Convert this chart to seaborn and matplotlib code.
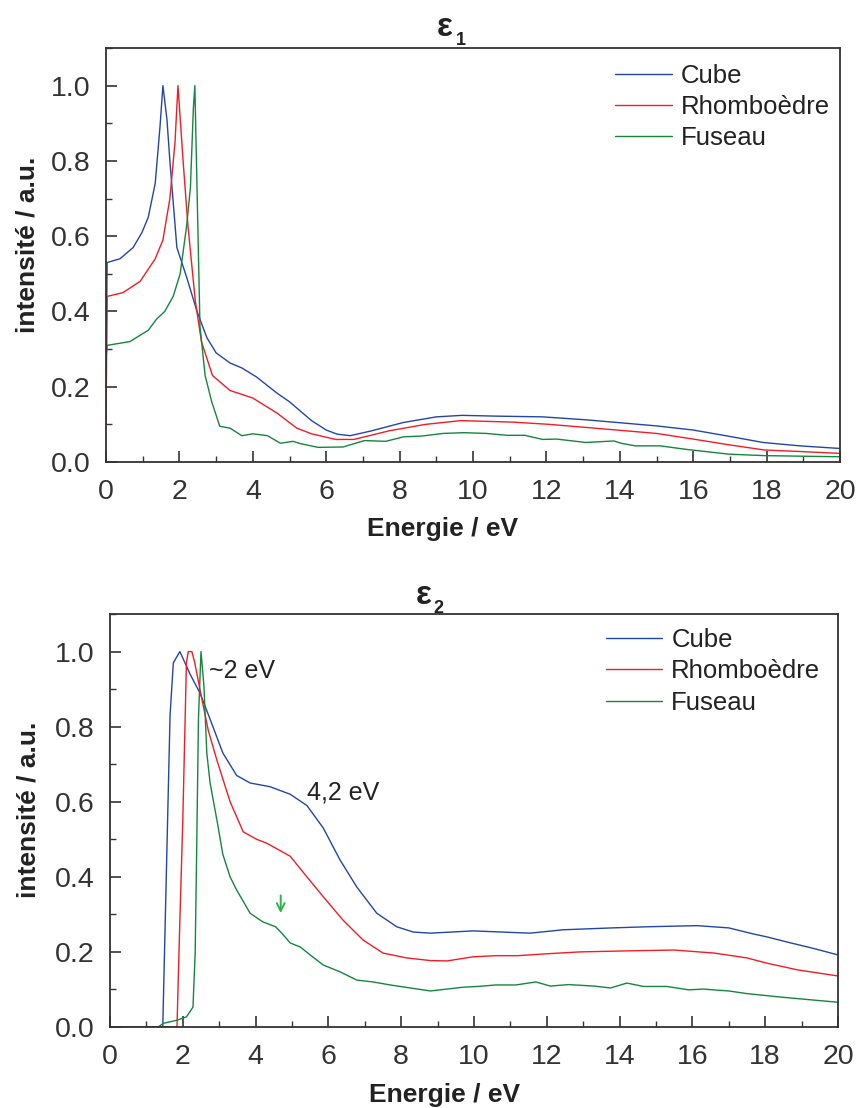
import pandas as pd
import matplotlib
matplotlib.use("Agg")
import matplotlib.pyplot as plt
import seaborn as sns
from matplotlib.ticker import MultipleLocator

# --- données ---
# epsilon 1
e1_cube_x = [0, 0.03, 0.38, 0.74, 0.98, 1.15, 1.34, 1.47, 1.55, 1.66, 1.74, 1.93, 2.2, 2.48, 2.75, 3.0,
             3.38, 3.7, 4.1, 4.66, 5.0, 5.3, 5.6, 6.0, 6.3, 6.65, 7.2, 8.1, 9.0, 9.7, 10.6, 11.9, 13.1,
             15.0, 16.0, 17.0, 17.9, 18.9, 20.0]
e1_cube_y = [0.20, 0.53, 0.54, 0.57, 0.61, 0.65, 0.74, 0.89, 1.0, 0.91, 0.80, 0.57, 0.49, 0.40, 0.33, 0.29,
             0.263, 0.25, 0.226, 0.183, 0.16, 0.135, 0.11, 0.085, 0.074, 0.07, 0.082, 0.105, 0.12, 0.124,
             0.122, 0.12, 0.112, 0.096, 0.085, 0.068, 0.052, 0.043, 0.036]

e1_rhombo_x = [0, 0.03, 0.46, 0.93, 1.34, 1.55, 1.74, 1.88, 1.96, 2.1, 2.23, 2.43, 2.6, 2.9, 3.38, 4.0,
               4.66, 5.2, 5.6, 6.26, 6.75, 7.72, 8.7, 9.66, 11.1, 12.09, 13.07, 15.0, 16.0, 16.96, 17.94,
               18.9, 20.0]
e1_rhombo_y = [0.10, 0.44, 0.45, 0.48, 0.54, 0.59, 0.70, 0.85, 1.0, 0.80, 0.63, 0.43, 0.32, 0.23, 0.19, 0.17,
               0.13, 0.09, 0.075, 0.06, 0.06, 0.083, 0.10, 0.11, 0.106, 0.10, 0.092, 0.076, 0.061, 0.046,
               0.032, 0.028, 0.023]

e1_fuseau_x = [0, 0.03, 0.65, 1.15, 1.38, 1.6, 1.83, 2.02, 2.2, 2.3, 2.38, 2.42, 2.56, 2.7, 2.88, 3.1,
               3.38, 3.7, 4.0, 4.4, 4.75, 5.1, 5.29, 5.78, 6.46, 7.04, 7.62, 8.11, 8.6, 9.18, 9.76, 10.35,
               10.93, 11.41, 11.9, 12.28, 13.07, 13.84, 14.03, 14.42, 15.1, 15.78, 16.96, 17.94, 20.0]
e1_fuseau_y = [0.28, 0.31, 0.32, 0.35, 0.38, 0.40, 0.44, 0.50, 0.63, 0.73, 0.94, 1.0, 0.36, 0.23, 0.16, 0.095,
               0.09, 0.07, 0.075, 0.07, 0.05, 0.055, 0.049, 0.039, 0.04, 0.057, 0.055, 0.067, 0.069, 0.076,
               0.078, 0.076, 0.071, 0.071, 0.06, 0.061, 0.052, 0.056, 0.05, 0.043, 0.043, 0.034, 0.021,
               0.017, 0.014]

# epsilon 2
e2_cube_x = [0, 1.45, 1.65, 1.74, 1.92, 2.2, 2.47, 2.75, 3.1, 3.48, 3.85, 4.4, 4.95, 5.41, 5.86, 6.32,
             6.78, 7.33, 7.88, 8.33, 8.8, 9.98, 11.54, 12.45, 13.8, 14.75, 16.13, 17.0, 17.67, 18.05, 18.7,
             19.3, 20.0]
e2_cube_y = [0, 0, 0.83, 0.97, 1.0, 0.94, 0.89, 0.82, 0.73, 0.67, 0.65, 0.64, 0.62, 0.59, 0.53, 0.445,
             0.373, 0.303, 0.267, 0.253, 0.25, 0.256, 0.25, 0.259, 0.264, 0.267, 0.27, 0.264, 0.248, 0.24,
             0.224, 0.21, 0.192]

e2_rhombo_x = [0, 1.84, 1.92, 2.0, 2.1, 2.15, 2.25, 2.33, 2.47, 2.7, 2.94, 3.3, 3.66, 4.03, 4.3, 4.58,
               4.95, 5.41, 5.86, 6.4, 6.95, 7.5, 8.15, 8.8, 9.26, 9.98, 10.6, 11.2, 12.0, 12.9, 14.3, 15.5,
               16.6, 17.5, 18.05, 18.9, 20.0]
e2_rhombo_y = [0, 0, 0.285, 0.55, 0.97, 1.0, 1.0, 0.97, 0.9, 0.79, 0.71, 0.6, 0.52, 0.50, 0.49, 0.475,
               0.455, 0.40, 0.347, 0.285, 0.232, 0.197, 0.184, 0.177, 0.176, 0.187, 0.19, 0.19, 0.195, 0.2,
               0.203, 0.205, 0.197, 0.184, 0.17, 0.152, 0.136]

e2_fuseau_x = [0, 1.32, 1.47, 1.84, 2.1, 2.28, 2.34, 2.38, 2.43, 2.5, 2.58, 2.66, 2.75, 2.94, 3.1, 3.3,
               3.48, 3.85, 4.2, 4.55, 4.72, 4.95, 5.23, 5.5, 5.86, 6.32, 6.78, 7.23, 7.7, 8.25, 8.8, 9.7,
               10.1, 10.6, 11.15, 11.7, 12.1, 12.6, 13.3, 13.75, 14.2, 14.66, 15.3, 15.9, 16.3, 17.0, 17.5,
               18.4, 19.3, 20.0]
e2_fuseau_y = [0, 0, 0.01, 0.018, 0.027, 0.053, 0.197, 0.46, 0.82, 1.0, 0.91, 0.73, 0.65, 0.55, 0.46, 0.40,
               0.365, 0.303, 0.28, 0.267, 0.25, 0.224, 0.213, 0.192, 0.165, 0.147, 0.125, 0.12, 0.112, 0.104,
               0.096, 0.106, 0.108, 0.112, 0.112, 0.12, 0.109, 0.113, 0.109, 0.104, 0.117, 0.108, 0.108,
               0.099, 0.101, 0.096, 0.089, 0.08, 0.072, 0.066]

formes = ["Cube", "Rhomboèdre", "Fuseau"]
couleurs = {"Cube": "#2246a6", "Rhomboèdre": "#f21c24", "Fuseau": "#13873c"}

panneaux = [
    {"Cube": (e1_cube_x, e1_cube_y), "Rhomboèdre": (e1_rhombo_x, e1_rhombo_y), "Fuseau": (e1_fuseau_x, e1_fuseau_y)},
    {"Cube": (e2_cube_x, e2_cube_y), "Rhomboèdre": (e2_rhombo_x, e2_rhombo_y), "Fuseau": (e2_fuseau_x, e2_fuseau_y)},
]

# --- style ---
sns.set_style("ticks")
plt.rcParams["font.family"] = ["Liberation Sans", "DejaVu Sans"]
plt.rcParams["xtick.direction"] = "in"
plt.rcParams["ytick.direction"] = "in"
plt.rcParams["axes.edgecolor"] = "#333333"
plt.rcParams["xtick.color"] = "#333333"
plt.rcParams["ytick.color"] = "#333333"
plt.rcParams["text.color"] = "#222222"
plt.rcParams["axes.labelcolor"] = "#222222"

fig = plt.figure(figsize=(8.62, 11.08), dpi=100)
ax1 = fig.add_axes([0.123, 0.583, 0.8515, 0.3737])
ax2 = fig.add_axes([0.1276, 0.0731, 0.8445, 0.3727])

for ax, donnees in zip([ax1, ax2], panneaux):
    for f in formes:
        x, y = donnees[f]
        df = pd.DataFrame({"E": x, "I": y})
        sns.lineplot(data=df, x="E", y="I", ax=ax, color=couleurs[f], lw=1.0,
                     sort=False, estimator=None, label=f)
    ax.set_xlim(0, 20)
    ax.set_ylim(0, 1.1)
    ax.xaxis.set_major_locator(MultipleLocator(2))
    ax.xaxis.set_minor_locator(MultipleLocator(1))
    ax.yaxis.set_major_locator(MultipleLocator(0.2))
    ax.yaxis.set_minor_locator(MultipleLocator(0.1))
    ax.yaxis.set_major_formatter(matplotlib.ticker.FormatStrFormatter("%.1f"))
    ax.tick_params(which="major", length=8, width=1.2, labelsize=20.5)
    ax.tick_params(axis="x", which="major", pad=12)
    ax.tick_params(axis="y", which="major", pad=11)
    ax.tick_params(which="minor", length=4.5, width=1.0)
    for s in ax.spines.values():
        s.set_linewidth(1.3)
    ax.set_xlabel("Energie / eV", fontsize=19, fontweight="bold")
    ax.set_ylabel("intensité / a.u.", fontsize=19, fontweight="bold")

ax1.xaxis.set_label_coords(0.459, -0.133)
ax2.xaxis.set_label_coords(0.459, -0.136)
ax1.yaxis.set_label_coords(-0.09, 0.524)
ax2.yaxis.set_label_coords(-0.096, 0.525)

ax1.legend(loc="upper right", bbox_to_anchor=(1.0, 0.985), borderaxespad=0, frameon=False,
           fontsize=18.5, handlelength=2.2, handletextpad=0.35, labelspacing=0.27)
ax2.legend(loc="upper right", bbox_to_anchor=(0.99, 0.992), borderaxespad=0, frameon=False,
           fontsize=18.5, handlelength=2.2, handletextpad=0.35, labelspacing=0.3)

# titres epsilon
ax1.text(0.462, 1.028, "ε", transform=ax1.transAxes, ha="center", va="baseline",
         fontsize=24, fontweight="bold")
ax1.text(0.483, 1.006, "1", transform=ax1.transAxes, ha="center", va="baseline",
         fontsize=13, fontweight="bold")
ax2.text(0.431, 1.025, "ε", transform=ax2.transAxes, ha="center", va="baseline",
         fontsize=24, fontweight="bold")
ax2.text(0.451, 1.002, "2", transform=ax2.transAxes, ha="center", va="baseline",
         fontsize=13, fontweight="bold")

# annotations
ax2.text(2.72, 0.947, "~2 eV", fontsize=18, va="center", ha="left")
ax2.text(5.41, 0.624, "4,2 eV", fontsize=18, va="center", ha="left")
ax2.annotate("", xy=(4.69, 0.296), xytext=(4.69, 0.358),
             arrowprops=dict(arrowstyle="->", color="#2db34a", lw=1.4, mutation_scale=14))

fig.savefig("out.png", dpi=100)
